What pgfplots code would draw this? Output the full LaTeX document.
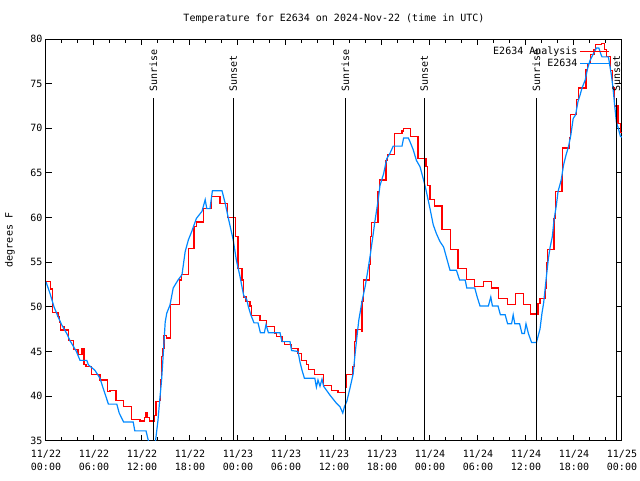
\documentclass[border=0pt]{standalone}
\usepackage{fontspec}
\setmainfont{DejaVu Sans Mono}
\usepackage{pgfplots}
\pgfplotsset{compat=1.18}
\definecolor{obsblue}{RGB}{0,136,255}
\definecolor{anared}{RGB}{255,0,0}
\newcommand{\lbl}{\fontsize{10}{13}\selectfont}
\pgfplotstableread{
h T
0 52.8
0.6 52.0
0.8 49.4
1.5 48.9
1.65 48.3
1.85 47.4
2.2 47.8
2.35 47.4
2.8 46.2
3.4 45.2
4.0 44.7
4.5 45.3
4.75 43.5
5.0 43.3
5.7 42.4
6.75 41.8
7.7 40.5
8.0 40.6
8.75 39.5
9.7 38.8
10.7 37.4
11.75 37.2
12.3 37.6
12.5 38.1
12.7 37.6
12.9 37.2
13.5 37.8
13.75 39.4
14.2 39.5
14.3 41.8
14.45 44.4
14.6 45.3
14.75 46.8
15.1 46.5
15.6 50.3
16.7 53.0
16.9 53.6
17.8 56.5
18.5 59.0
18.8 59.5
19.7 61.0
20.7 62.4
21.75 61.6
22.7 60.0
23.7 57.9
24.0 54.3
24.5 53.0
24.7 51.1
25.0 50.6
25.5 50.1
25.7 49.0
26.75 48.5
27.6 47.8
28.6 47.0
28.8 46.7
29.5 46.1
29.8 45.8
30.7 45.3
31.5 44.8
31.9 44.0
32.6 43.5
32.8 43.0
33.6 42.4
34.7 41.2
35.7 40.6
36.5 40.4
37.4 41.0
37.6 42.4
38.3 43.3
38.6 46.1
38.75 47.5
39.4 47.2
39.5 50.6
39.7 53.0
40.4 54.7
40.6 57.9
40.7 59.4
41.5 62.9
41.7 64.2
42.5 66.4
42.7 67.1
43.6 69.4
44.5 69.7
44.7 70.0
45.6 69.1
46.5 66.6
47.5 65.7
47.7 63.6
48.0 62.0
48.6 61.3
49.5 58.7
50.6 56.4
51.5 54.3
52.6 53.1
53.6 52.3
54.7 52.8
55.7 52.1
56.6 50.9
57.7 50.3
58.7 51.5
59.7 50.3
60.6 49.2
61.5 50.4
61.75 50.9
62.4 52.1
62.6 54.9
62.7 56.4
63.5 59.9
63.7 62.9
64.5 64.3
64.6 67.8
65.4 68.9
65.6 71.5
66.3 73.2
66.6 74.5
67.5 76.6
67.7 77.3
68.1 78.3
68.5 78.8
68.7 79.4
69.4 79.5
69.8 78.8
70.1 78.0
70.6 76.5
70.8 74.5
71.1 72.5
71.5 70.5
71.8 69.5
72 69.5
}\analysis
\pgfplotstableread{
h T
0 52.8
0.5 51.5
1.0 50.0
1.5 48.9
1.95 48.0
2.6 47.0
3.0 46.2
3.8 45.0
4.25 44.0
5.1 44.0
5.3 43.5
6.1 42.9
6.75 42.0
7.1 41.0
7.8 39.1
8.85 39.1
9.15 38.1
9.7 37.1
10.9 37.1
11.1 36.1
12.5 36.1
12.8 35.0
13.0 34.3
13.6 34.3
14.0 37.3
14.25 39.9
14.45 41.8
14.7 45.3
14.9 48.3
15.1 49.3
15.5 50.2
15.9 52.1
16.5 53.0
17.0 53.6
17.4 56.2
17.8 57.5
18.2 58.4
18.8 59.9
19.5 60.7
19.9 62.0
20.1 61.0
20.5 61.0
20.8 63.0
22.0 63.0
22.4 61.6
22.8 59.9
23.4 57.5
23.8 55.2
24.25 53.4
24.7 51.3
25.1 50.8
25.3 50.0
25.6 49.1
26.0 48.2
26.5 48.2
26.8 47.1
27.3 47.1
27.5 48.0
27.8 47.1
29.25 47.1
29.5 46.1
30.5 46.1
30.7 45.1
31.5 45.0
31.75 43.8
32.0 42.9
32.3 42.0
33.6 42.0
33.8 41.0
34.0 41.8
34.25 41.1
34.5 41.9
34.7 41.1
35.5 40.1
36.3 39.2
36.75 38.8
37.1 38.1
37.3 38.8
37.6 39.4
38.0 40.9
38.4 42.5
38.6 44.4
38.8 46.1
39.1 48.5
39.5 50.6
39.9 52.3
40.2 53.9
40.5 55.6
40.8 57.5
41.1 59.5
41.5 61.8
41.75 63.6
42.2 64.9
42.6 66.6
43.0 67.2
43.4 68.0
44.5 68.0
44.7 68.9
45.3 68.9
45.5 68.5
45.9 67.6
46.3 66.4
46.75 65.7
47.2 64.2
47.5 63.1
48.0 61.0
48.4 59.2
48.8 58.2
49.25 57.3
49.7 56.7
50.1 55.4
50.5 54.1
51.3 54.1
51.7 53.0
52.4 53.0
52.6 52.1
53.6 52.1
53.9 51.1
54.25 50.1
55.3 50.1
55.6 51.1
55.8 50.1
56.5 50.1
56.8 49.1
57.4 49.1
57.7 48.1
58.2 48.1
58.4 49.1
58.6 48.1
59.2 48.1
59.5 47.0
59.8 47.0
60.0 48.1
60.3 47.0
60.7 46.0
61.3 46.0
61.75 47.5
62.0 49.3
62.2 50.4
62.4 52.1
62.6 53.8
62.8 55.4
63.0 56.6
63.3 57.9
63.5 59.7
63.8 61.4
64.0 62.9
64.4 64.2
64.7 65.9
65.0 67.0
65.3 67.9
65.6 69.2
65.9 71.1
66.2 71.5
66.5 73.0
66.75 73.7
67.0 74.5
67.4 75.4
67.7 76.7
68.0 77.6
68.4 78.3
68.8 79.0
69.1 79.0
69.4 78.2
69.5 78.0
70.3 78.0
70.5 76.9
70.7 75.8
70.9 74.3
71.1 72.4
71.3 70.7
71.6 69.8
71.8 69.1
72.0 69.0
}\observed
\begin{document}
\begin{tikzpicture}
\useasboundingbox (0pt,0pt) rectangle (640pt,480pt);
\node[font=\lbl] at (334pt,461pt) {Temperature for E2634 on 2024-Nov-22 (time in UTC)};
\node[font=\lbl, rotate=90] at (10pt,240pt) {degrees F};
\begin{axis}[
  at={(46pt,39.3pt)}, anchor=south west,
  scale only axis, width=576pt, height=401.7pt,
  xmin=0, xmax=72, ymin=35, ymax=80,
  xtick={0,6,...,72}, minor x tick num=2,
  ytick={35,40,...,80},
  xticklabels={{11/22\\00:00},{11/22\\06:00},{11/22\\12:00},{11/22\\18:00},
               {11/23\\00:00},{11/23\\06:00},{11/23\\12:00},{11/23\\18:00},
               {11/24\\00:00},{11/24\\06:00},{11/24\\12:00},{11/24\\18:00},
               {11/25\\00:00}},
  xticklabel style={align=center, yshift=-6pt},
  tick label style={font=\lbl},
  /pgf/number format/assume math mode=true,
  tick align=inside,
  tick style={black, line width=1pt},
  major tick length=6pt, minor tick length=3.5pt,
  axis line style={line width=1pt},
  legend plot pos=right,
  legend cell align=right,
  legend style={draw=none, fill=none, at={(0.979,0.985)}, anchor=north east,
                font=\lbl, row sep=-1.3pt, inner sep=0pt},
  legend image code/.code={\draw[#1] plot coordinates {(0pt,0pt) (14.5pt,0pt) (29pt,0pt)};},
]
\addplot[const plot, anared, line width=1.2pt] table[x=h,y=T] {\analysis};
\addlegendentry{E2634 Analysis}
\addplot[obsblue, line width=1.2pt] table[x=h,y=T] {\observed};
\addlegendentry{E2634}
\addplot[black, line width=1.2pt, forget plot] coordinates {(13.41,35) (13.41,73.36)};
\addplot[black, line width=1.2pt, forget plot] coordinates {(23.41,35) (23.41,73.36)};
\addplot[black, line width=1.2pt, forget plot] coordinates {(37.41,35) (37.41,73.36)};
\addplot[black, line width=1.2pt, forget plot] coordinates {(47.29,35) (47.29,73.36)};
\addplot[black, line width=1.2pt, forget plot] coordinates {(61.29,35) (61.29,73.36)};
\addplot[black, line width=1.2pt, forget plot] coordinates {(71.31,35) (71.31,73.36)};
\node[rotate=90, anchor=west, font=\lbl, inner sep=0pt] at (axis cs:13.41,74.1) {Sunrise};
\node[rotate=90, anchor=west, font=\lbl, inner sep=0pt] at (axis cs:23.41,74.1) {Sunset};
\node[rotate=90, anchor=west, font=\lbl, inner sep=0pt] at (axis cs:37.41,74.1) {Sunrise};
\node[rotate=90, anchor=west, font=\lbl, inner sep=0pt] at (axis cs:47.29,74.1) {Sunset};
\node[rotate=90, anchor=west, font=\lbl, inner sep=0pt] at (axis cs:61.29,74.1) {Sunrise};
\node[rotate=90, anchor=west, font=\lbl, inner sep=0pt] at (axis cs:71.31,74.1) {Sunset};
\end{axis}
\end{tikzpicture}
\end{document}
